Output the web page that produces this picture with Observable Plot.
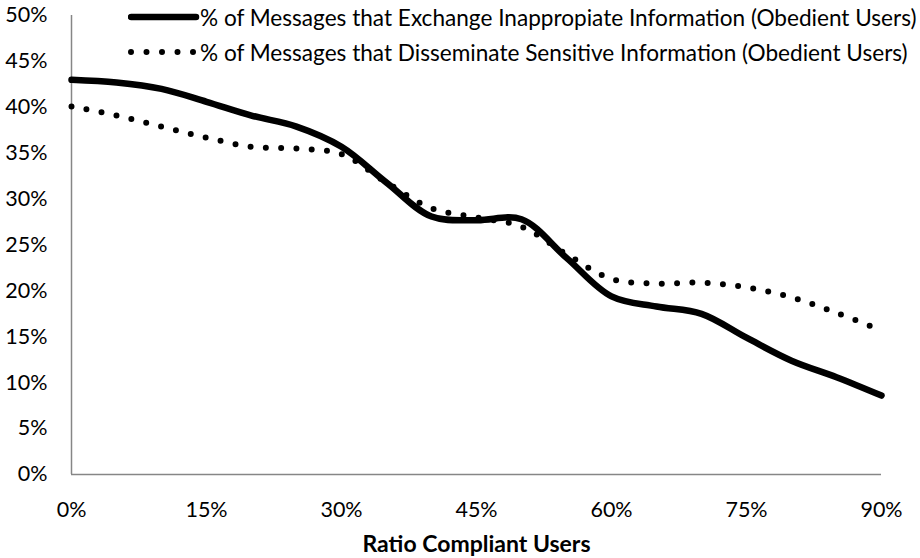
<!DOCTYPE html>
<html>
<head>
<meta charset="utf-8">
<script src="https://cdn.jsdelivr.net/npm/d3@7"></script>
<script src="https://cdn.jsdelivr.net/npm/@observablehq/plot@0.6"></script>
<style>
  html, body { margin: 0; padding: 0; background: #fff; }
  #wrap { position: relative; width: 920px; height: 558px; font-family: Lato, "Noto Sans", sans-serif; }
  #wrap svg.plot text { font-family: Lato, "Noto Sans", sans-serif; }
  g[aria-label="x-axis label"] text { font-weight: bold; font-size: 23px; }
  .legend { position: absolute; left: 128px; top: 0; font-size: 22.6px; color: #000; }
  .legend .item { position: absolute; left: 0; white-space: nowrap; height: 24px; display: flex; align-items: center; }
  .legend .item svg { width: 72px; height: 12px; flex: none; }
</style>
</head>
<body>
<div id="wrap"></div>
<script>
// Ratio of compliant users (x)
const ratioCompliant = [0, 0.05, 0.10, 0.15, 0.20, 0.25, 0.30, 0.35, 0.40, 0.45, 0.50, 0.55, 0.60, 0.65, 0.70, 0.75, 0.80, 0.85, 0.90];
// % of Messages that Exchange Inappropiate Information (Obedient Users)
const exchangeInappropriate = [0.430, 0.427, 0.420, 0.406, 0.391, 0.379, 0.357, 0.318, 0.281, 0.277, 0.278, 0.236, 0.194, 0.183, 0.175, 0.149, 0.124, 0.106, 0.086];
// % of Messages that Disseminate Sensitive Information (Obedient Users)
const disseminateSensitive = [0.401, 0.391, 0.379, 0.367, 0.357, 0.355, 0.349, 0.318, 0.290, 0.280, 0.270, 0.240, 0.213, 0.208, 0.209, 0.204, 0.193, 0.176, 0.157];

const seriesNames = [
  "% of Messages that Exchange Inappropiate Information (Obedient Users)",
  "% of Messages that Disseminate Sensitive Information (Obedient Users)"
];
const xTicks = [0, 0.15, 0.30, 0.45, 0.60, 0.75, 0.90];
const yTicks = [0, 0.05, 0.10, 0.15, 0.20, 0.25, 0.30, 0.35, 0.40, 0.45, 0.50];
const xTitle = "Ratio Compliant Users";

const exchangeData = ratioCompliant.map((x, i) => ({x, y: exchangeInappropriate[i]}));
const disseminateData = ratioCompliant.map((x, i) => ({x, y: disseminateSensitive[i]}));

const pct = d3.format(".0%");

const chart = Plot.plot({
  width: 920,
  height: 558,
  marginLeft: 71,
  marginRight: 39,
  marginTop: 15,
  marginBottom: 84,
  style: { fontFamily: "Lato, 'Noto Sans', sans-serif", fontSize: "21.5px", color: "#000", background: "#fff" },
  x: { domain: [0, 0.9] },
  y: { domain: [0, 0.5] },
  marks: [
    Plot.axisY({ ticks: yTicks, tickFormat: pct, tickSize: 0, tickPadding: 24, label: null }),
    Plot.axisX({ ticks: xTicks, tickFormat: pct, tickSize: 0, tickPadding: 27, label: xTitle, labelAnchor: "center", labelArrow: "none", labelOffset: 77 }),
    Plot.ruleX([0], { stroke: "#868686", strokeWidth: 1.5 }),
    Plot.ruleY([0], { stroke: "#868686", strokeWidth: 1.5 }),
    Plot.line(disseminateData, { x: "x", y: "y", curve: "catmull-rom", stroke: "#000", strokeWidth: 6, strokeDasharray: "0 15.3", strokeLinecap: "round" }),
    Plot.line(exchangeData, { x: "x", y: "y", curve: "catmull-rom", stroke: "#000", strokeWidth: 6.5, strokeLinecap: "round" })
  ]
});
chart.classList.add("plot");
const wrap = document.getElementById("wrap");
wrap.appendChild(chart);

// Legend (overlaid at the top of the plot area)
const legend = document.createElement("div");
legend.className = "legend";
legend.innerHTML = `
  <div class="item" style="top:5px">
    <svg viewBox="0 0 72 12"><line x1="3" y1="6" x2="68" y2="6" stroke="#000" stroke-width="6.5" stroke-linecap="round"/></svg>
    <span>${seriesNames[0]}</span>
  </div>
  <div class="item" style="top:40px">
    <svg viewBox="0 0 72 12"><line x1="3" y1="6" x2="66" y2="6" stroke="#000" stroke-width="6" stroke-dasharray="0 15.5" stroke-linecap="round"/></svg>
    <span>${seriesNames[1]}</span>
  </div>`;
wrap.appendChild(legend);
</script>
</body>
</html>
